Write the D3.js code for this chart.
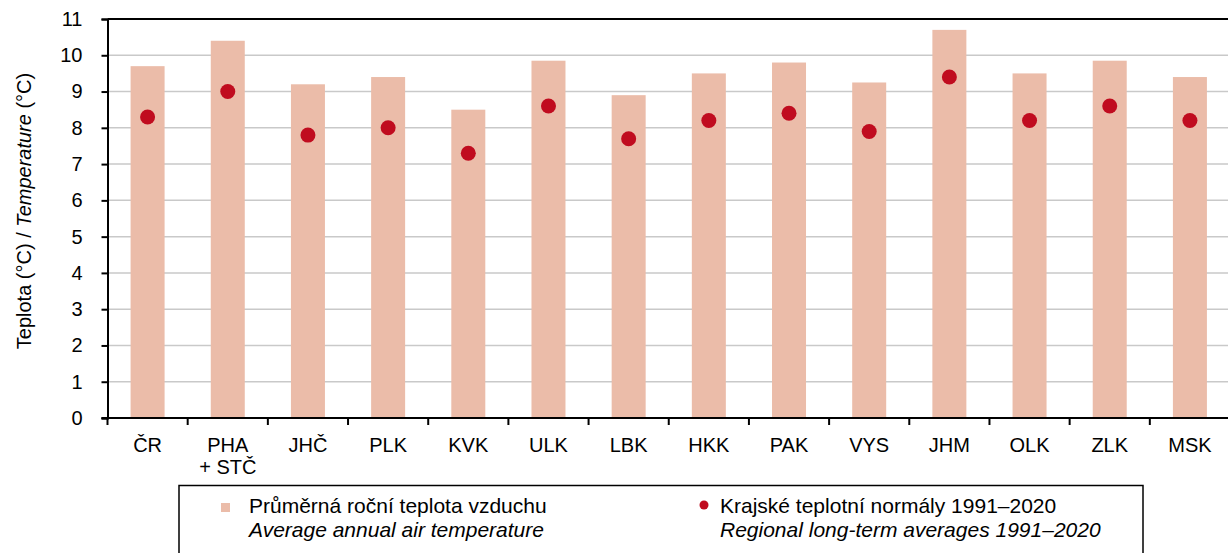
<!DOCTYPE html>
<html>
<head>
<meta charset="utf-8">
<script src="https://cdn.jsdelivr.net/npm/d3@7"></script>
<style>
  body { margin: 0; background: #fff; }
  svg { display: block; font-family: "Liberation Sans", Arial, sans-serif; }
</style>
</head>
<body>
<svg id="chart" width="1228" height="553"></svg>
<script>
// regions (two-line labels split with \n)
const regions = ['ČR', 'PHA\n+ STČ', 'JHČ', 'PLK', 'KVK', 'ULK', 'LBK', 'HKK', 'PAK', 'VYS', 'JHM', 'OLK', 'ZLK', 'MSK'];
// average annual air temperature
const annualTemp = [9.7, 10.4, 9.2, 9.4, 8.5, 9.85, 8.9, 9.5, 9.8, 9.25, 10.7, 9.5, 9.85, 9.4];
// regional normals 1991–2020
const normals = [8.3, 9.0, 7.8, 8.0, 7.3, 8.6, 7.7, 8.2, 8.4, 7.9, 9.4, 8.2, 8.6, 8.2];
const yTicks = [0, 1, 2, 3, 4, 5, 6, 7, 8, 9, 10, 11];

const barColor = '#ebbca9';
const dotColor = '#c00c1f';
const fontSize = 20;

const margin = { top: 19, left: 107.5, bottom: 418, right: 1230 };

const svg = d3.select('#chart');

const x = d3.scaleBand()
  .domain(regions)
  .range([margin.left, margin.right])
  .padding(0);

const y = d3.scaleLinear()
  .domain([0, 11])
  .range([margin.bottom, margin.top]);

// GRID
svg.append('g')
  .selectAll('line')
  .data(yTicks.filter(d => d > 0 && d < 11))
  .join('line')
  .attr('x1', margin.left)
  .attr('x2', margin.right)
  .attr('y1', d => y(d))
  .attr('y2', d => y(d))
  .attr('stroke', '#c9c9c9')
  .attr('stroke-width', 1.5);

// top frame line
svg.append('line')
  .attr('x1', margin.left)
  .attr('x2', margin.right)
  .attr('y1', y(11))
  .attr('y2', y(11))
  .attr('stroke', '#000')
  .attr('stroke-width', 2);

// BARS
const barW = 34;
svg.append('g')
  .selectAll('rect')
  .data(regions)
  .join('rect')
  .attr('x', d => x(d) + x.bandwidth() / 2 - barW / 2)
  .attr('width', barW)
  .attr('y', (d, i) => y(annualTemp[i]))
  .attr('height', (d, i) => y(0) - y(annualTemp[i]))
  .attr('fill', barColor);

// DOTS
svg.append('g')
  .selectAll('circle')
  .data(regions)
  .join('circle')
  .attr('cx', d => x(d) + x.bandwidth() / 2)
  .attr('cy', (d, i) => y(normals[i]))
  .attr('r', 7.5)
  .attr('fill', dotColor);

// Y AXIS
const yAxis = svg.append('g')
  .attr('transform', `translate(${margin.left},0)`)
  .call(d3.axisLeft(y).tickValues(yTicks).tickSize(6).tickPadding(19).tickFormat(d3.format('d')));
yAxis.select('.domain').attr('stroke', '#000').attr('stroke-width', 2);
yAxis.selectAll('.tick line').attr('stroke', '#000').attr('stroke-width', 2);
yAxis.selectAll('.tick text')
  .attr('font-size', fontSize)
  .attr('font-family', '"Liberation Sans", Arial, sans-serif')
  .attr('fill', '#000');

// X AXIS
const xAxis = svg.append('g');
xAxis.append('line')
  .attr('x1', margin.left - 6)
  .attr('x2', margin.right)
  .attr('y1', y(0))
  .attr('y2', y(0))
  .attr('stroke', '#000')
  .attr('stroke-width', 2);
xAxis.selectAll('line.tk')
  .data(regions)
  .join('line')
  .attr('class', 'tk')
  .attr('x1', d => x(d))
  .attr('x2', d => x(d))
  .attr('y1', y(0))
  .attr('y2', y(0) + 7)
  .attr('stroke', '#000')
  .attr('stroke-width', 2);

const labels = xAxis.selectAll('text')
  .data(regions)
  .join('text')
  .attr('text-anchor', 'middle')
  .attr('font-size', fontSize)
  .attr('fill', '#000');
labels.each(function (d) {
  const t = d3.select(this);
  const cx = x(d) + x.bandwidth() / 2;
  d.split('\n').forEach((line, i) => {
    t.append('tspan')
      .attr('x', cx)
      .attr('y', 452 + i * 21.5)
      .text(line);
  });
});

// Y LABEL
const yl = svg.append('text')
  .attr('transform', 'translate(31,211) rotate(-90)')
  .attr('text-anchor', 'middle')
  .attr('font-size', fontSize)
  .attr('fill', '#000');
yl.append('tspan').text('Teplota (°C) / ');
yl.append('tspan').attr('font-style', 'italic').text('Temperature');
yl.append('tspan').text(' (°C)');

// LEGEND
const legend = svg.append('g');
legend.append('rect')
  .attr('x', 179)
  .attr('y', 485.5)
  .attr('width', 964)
  .attr('height', 90)
  .attr('fill', '#fff')
  .attr('stroke', '#000')
  .attr('stroke-width', 1.5);

legend.append('rect')
  .attr('x', 221)
  .attr('y', 503)
  .attr('width', 9)
  .attr('height', 9)
  .attr('fill', barColor);
legend.append('circle')
  .attr('cx', 704)
  .attr('cy', 505)
  .attr('r', 4.5)
  .attr('fill', dotColor);

const legendItems = [
  { x: 249, cz: 'Průměrná roční teplota vzduchu', en: 'Average annual air temperature' },
  { x: 720, cz: 'Krajské teplotní normály 1991–2020', en: 'Regional long-term averages 1991–2020' }
];
legendItems.forEach(it => {
  legend.append('text')
    .attr('x', it.x).attr('y', 513)
    .attr('font-size', 21).attr('fill', '#000')
    .text(it.cz);
  legend.append('text')
    .attr('x', it.x).attr('y', 537)
    .attr('font-size', 21).attr('font-style', 'italic').attr('fill', '#000')
    .text(it.en);
});
</script>
</body>
</html>
